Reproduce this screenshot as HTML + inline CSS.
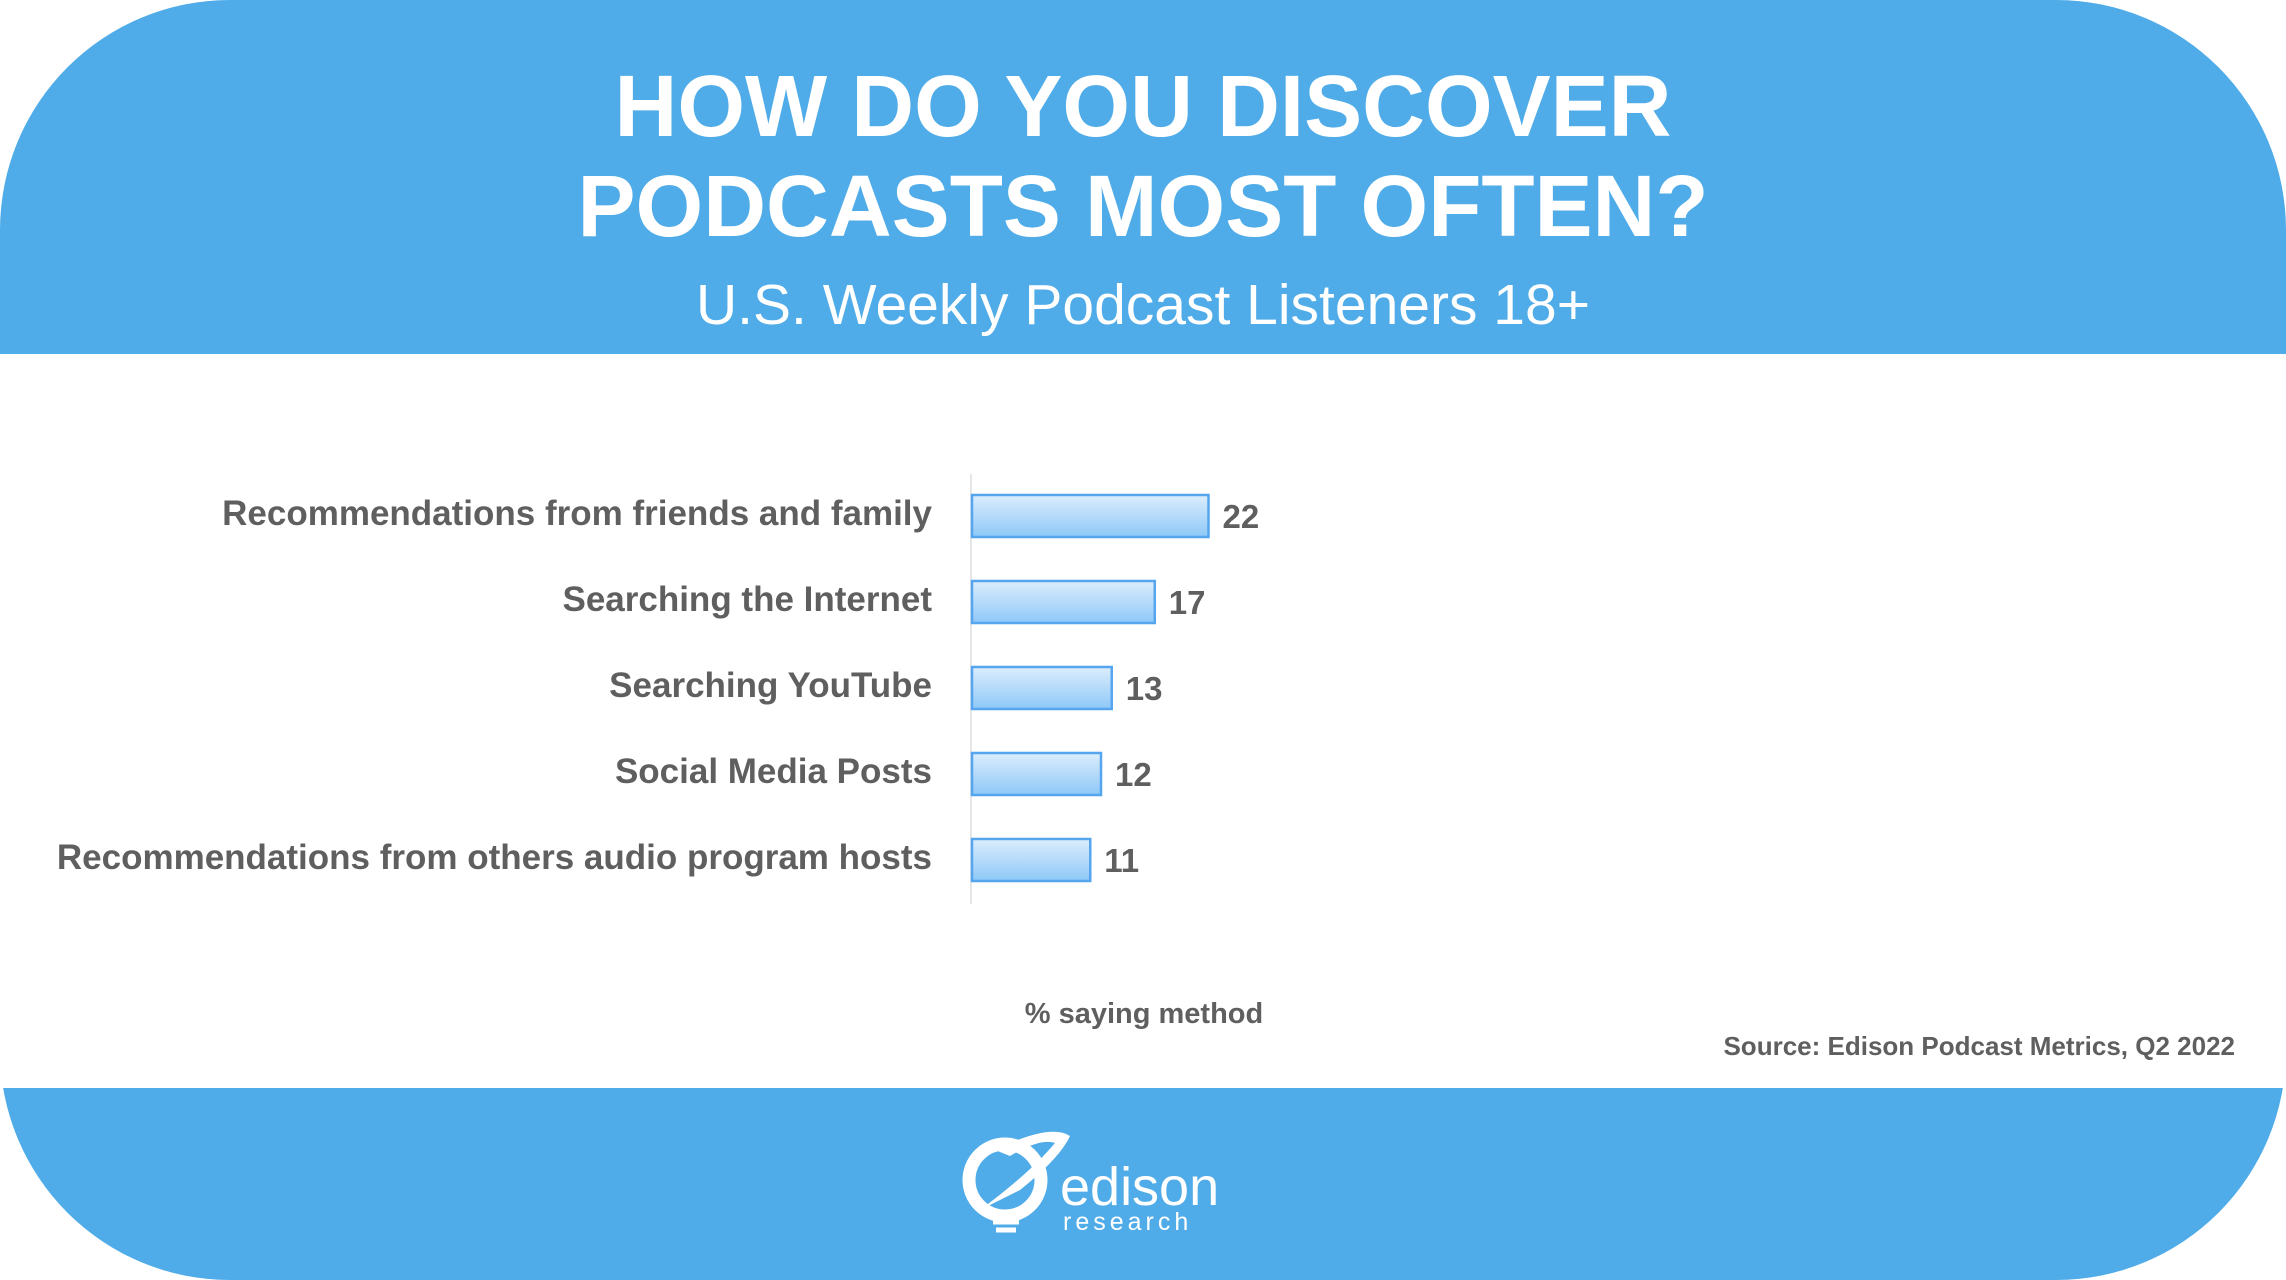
<!DOCTYPE html>
<html><head><meta charset="utf-8"><style>
body{margin:0;width:2286px;height:1280px;overflow:hidden;background:#fff;font-family:"Liberation Sans",sans-serif;position:relative}
.hdrwrap{position:absolute;left:0;top:0;width:2286px;height:354px;overflow:hidden}
.hdrwrap .bg{position:absolute;left:0;top:0;width:2286px;height:600px;background:#4FACE8;border-radius:230px}
.ftrwrap{position:absolute;left:0;top:1088px;width:2286px;height:192px;overflow:hidden}
.ftrwrap .bg{position:absolute;left:0;top:-500px;width:2286px;height:692px;background:#4FACE8;border-radius:230px}
.t{position:absolute;left:0;width:2286px;text-align:center;color:#fff}
.lab{position:absolute;right:1354px;font-size:35px;font-weight:bold;color:#5f5f5f;white-space:nowrap}
.val{position:absolute;font-size:33px;font-weight:bold;color:#5f5f5f}
</style></head><body>
<div class="hdrwrap"><div class="bg"></div></div>
<div class="ftrwrap"><div class="bg"></div></div>
<div class="t" style="top:57px;font-size:87px;font-weight:bold;line-height:100px">HOW DO YOU DISCOVER<br>PODCASTS MOST OFTEN?</div>
<div class="t" style="top:272px;font-size:57px;font-weight:300">U.S. Weekly Podcast Listeners 18+</div>
<svg id="chart" width="2286" height="1280" style="position:absolute;left:0;top:0">
<defs><linearGradient id="g" x1="0" y1="0" x2="0" y2="1"><stop offset="0" stop-color="#dcedfc"/><stop offset="1" stop-color="#8ec8f8"/></linearGradient></defs>
<line x1="971" y1="474" x2="971" y2="904" stroke="#e6e6e6" stroke-width="2"/>
</svg>
<div id="labels"></div>
<div class="t" style="top:998px;left:0;width:2288px;font-size:29px;font-weight:bold;color:#5f5f5f">% saying method</div>
<div style="position:absolute;right:51px;top:1031px;font-size:26px;font-weight:bold;color:#5f5f5f">Source: Edison Podcast Metrics, Q2 2022</div>
<div style="position:absolute;left:960px;top:1128px;width:260px;height:120px">
<svg width="110" height="120" style="position:absolute;left:0;top:0">
<circle cx="45" cy="52" r="36" fill="none" stroke="#fff" stroke-width="13"/>
<path d="M35 22 Q90 -5 110 8 Q100 30 60 62 L20 82 Q70 45 95 15 Q80 10 50 28Z" fill="#fff"/>
<path d="M30 86 h30 M33 94 h26 M36 102 h20" stroke="#fff" stroke-width="5"/>
</svg>
<div style="position:absolute;left:100px;top:28px;font-size:54px;color:#fff">edison</div>
<div style="position:absolute;left:103px;top:80px;font-size:25px;color:#fff;letter-spacing:4px">research</div>
</div>
<script>
const categories=["Recommendations from friends and family","Searching the Internet","Searching YouTube","Social Media Posts","Recommendations from others audio program hosts"];
const values=[22,17,13,12,11];
const x0=972,unit=10.75,rowTop=516,rowStep=86,barH=42;
const xs=v=>v*unit, yc=i=>rowTop+i*rowStep;
const svg=document.getElementById('chart'),L=document.getElementById('labels');
values.forEach((v,i)=>{
 const r=document.createElementNS('http://www.w3.org/2000/svg','rect');
 r.setAttribute('x',x0);r.setAttribute('y',yc(i)-barH/2);r.setAttribute('width',xs(v));r.setAttribute('height',barH);
 r.setAttribute('fill','url(#g)');r.setAttribute('stroke','#55a6ef');r.setAttribute('stroke-width','2.5');
 
 
 svg.appendChild(r);
 const l=document.createElement('div');l.className='lab';l.style.top=(yc(i)-22)+'px';l.textContent=categories[i];
 
 
 L.appendChild(l);
 const t=document.createElement('div');t.className='val';t.style.left=(x0+xs(v)+14)+'px';t.style.top=(yc(i)-18)+'px';t.textContent=v;
 
 
 L.appendChild(t);
});
</script>
</body></html>
